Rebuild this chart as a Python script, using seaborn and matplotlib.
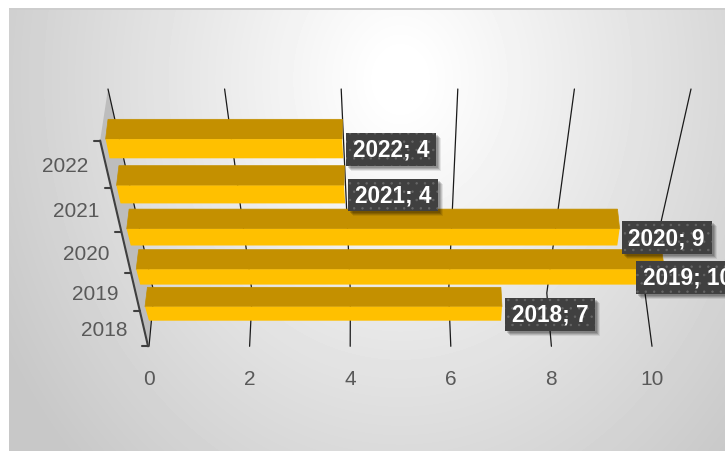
import matplotlib
matplotlib.use("Agg")
import matplotlib.pyplot as plt
import numpy as np
import pandas as pd
import seaborn as sns
from matplotlib.patches import Polygon, Rectangle
from matplotlib.transforms import IdentityTransform, Transform

years = ["2018", "2019", "2020", "2021", "2022"]
counts = [7, 10, 9, 4, 4]
value_ticks = [0, 2, 4, 6, 8, 10]

WIDTH, HEIGHT = 725, 452
BAR_WIDTH = 0.8
NUDGE = 1


def row(a, b, c):
    return lambda i: a + b * i + c * i * i


# rows of the bar edges on the picture, as the 3D view squeezes them
bottom_edge = row(320.7, -34.6, -1.5)
middle_edge = row(306.7, -35.9, -1.5)
top_edge = row(287.3, -36.2, -1.45)


class Projection(Transform):
    input_dims = 2
    output_dims = 2
    is_separable = False
    has_inverse = False

    def project(self, a, b):
        raise NotImplementedError

    def transform_non_affine(self, values):
        values = np.asarray(values, dtype=float)
        x, y = self.project(values[:, 0], values[:, 1])
        return np.column_stack([x, HEIGHT - y - NUDGE])


class BarFace(Projection):
    """Maps (value, category position) to one slanted face of a bar."""

    def __init__(self, near, far, near_shift, far_shift):
        super().__init__()
        self.near, self.far = near, far
        self.near_shift, self.far_shift = near_shift, far_shift

    def project(self, value, pos):
        i = np.round(pos)
        t = (pos - i) / BAR_WIDTH + 0.5
        mid = middle_edge(i)
        start = 145 + (mid - 306.7) * 0.235
        step = 51 + (306.7 - mid) * 0.0484
        shift = (1 - t) * (self.near_shift[0] + self.near_shift[1] * value)
        shift = shift + t * (self.far_shift[0] + self.far_shift[1] * value)
        return start + value * step + shift, (1 - t) * self.near(i) + t * self.far(i)


class BackWall(Projection):
    """Maps (value, bend 0..2) to the gridlines: front, knee, back."""

    def project(self, value, bend):
        start = np.interp(bend, [0, 1, 2], [149, 154, 108])
        step = np.interp(bend, [0, 1, 2], [50.3, 49.1, 58.3])
        return start + step * value, np.interp(bend, [0, 1, 2], [346.3, 293, 89])


class CategoryAxis(Projection):
    """Maps (pixels off the axis, category position) to the slanted axis."""

    def project(self, offset, pos):
        c = pos + 0.5
        y = 346.3 - 33.9 * c - 1.45 * c * c
        return 148 - (346 - y) * 48 / 206 + offset, y


front_face = BarFace(bottom_edge, middle_edge, (4, -0.7), (0, 0))
top_face = BarFace(middle_edge, top_edge, (0, 0), (2.4, -0.5))
wall = BackWall()
axis_line = CategoryAxis()

sns.set_style("white")
plt.rcParams["font.family"] = ["Liberation Sans", "DejaVu Sans"]
plt.rcParams["hatch.linewidth"] = 0.5

fig = plt.figure(figsize=(WIDTH / 100, HEIGHT / 100), dpi=100, facecolor="white")
ax = fig.add_axes([0, 0, 1, 1])
ax.patch.set_alpha(0)

# slide background, soft radial gradient
yy, xx = np.mgrid[9:HEIGHT, 9:WIDTH]
radius = np.hypot((xx - 400) / 430, (yy - 80) / 520)
shade = 255 - 55 * np.clip(radius - 0.05, 0, 1)
shade[0:2, :] = 205
fig.figimage(shade, xo=9, yo=0, origin="upper", cmap="gray", vmin=0, vmax=255, zorder=-5)

data = pd.DataFrame({"year": years, "count": counts})
sns.barplot(data=data, x="count", y="year", orient="h", order=years, width=BAR_WIDTH,
            color="#FFC000", saturation=1, ax=ax)
sns.barplot(data=data, x="count", y="year", orient="h", order=years, width=BAR_WIDTH,
            color="#C49000", saturation=1, ax=ax)
for patch in ax.containers[0]:
    patch.set_transform(front_face)
    patch.set_linewidth(0)
    patch.set_zorder(5)
for patch in ax.containers[1]:
    patch.set_transform(top_face)
    patch.set_edgecolor("#C49000")
    patch.set_linewidth(0.5)
    patch.set_zorder(4)

ends = IdentityTransform()
corners = [axis_line.transform((0, -0.5)), axis_line.transform((0, 4.5)),
           wall.transform((0, 2)), wall.transform((0, 1))]
ax.add_patch(Polygon(corners, closed=True, transform=ends, facecolor="#BDBDBD", edgecolor="none", zorder=1))

for tick in value_ticks:
    ax.plot([tick, tick, tick], [0, 1, 2], transform=wall, color="#1A1A1A", lw=0.9, zorder=2)
    ax.annotate(str(tick), xy=(tick, 0), xycoords=wall, xytext=(0, -32), textcoords="offset pixels",
                ha="center", va="center", fontsize=15, color="#595959")

ax.plot([0, 0], [-0.5, len(years) - 0.5], transform=axis_line, color="#3F3F3F", lw=1.5, zorder=3)
for i in range(len(years) + 1):
    ax.plot([-6, 0], [i - 0.5, i - 0.5], transform=axis_line, color="#3F3F3F", lw=1.5, zorder=3)
for i, year in enumerate(years):
    ax.annotate(year, xy=(-17, i), xycoords=axis_line, xytext=(0, -1), textcoords="offset pixels",
                ha="right", va="center", fontsize=15, color="#595959")

renderer = fig.canvas.get_renderer()
for i, (year, count) in enumerate(zip(years, counts)):
    x, y = front_face.transform((count, i))
    label = ax.text(min(x + 10, 643), y - 0.5, f"{year}; {count}", transform=ends, ha="left", va="center",
                    fontsize=16.3, fontweight="bold", color="white", zorder=7, clip_on=False,
                    bbox=dict(boxstyle="square,pad=0.3", mutation_aspect=0.72, facecolor="#404040",
                              edgecolor="#666666", linewidth=0, hatch=".."))
    # soft drop shadow, separate so it stays free of the dots
    extent = label.get_window_extent(renderer)
    for step, alpha in zip([5, 4, 3, 2], [0.08, 0.12, 0.15, 0.15]):
        ax.add_patch(Rectangle((extent.x0 - 6.8 + step, extent.y0 - 4.9 - step),
                               extent.width + 13.6, extent.height + 9.8, transform=ends,
                               facecolor="black", edgecolor="none", alpha=alpha, zorder=6))

ax.set_axis_off()
fig.savefig("out.png", dpi=100)
